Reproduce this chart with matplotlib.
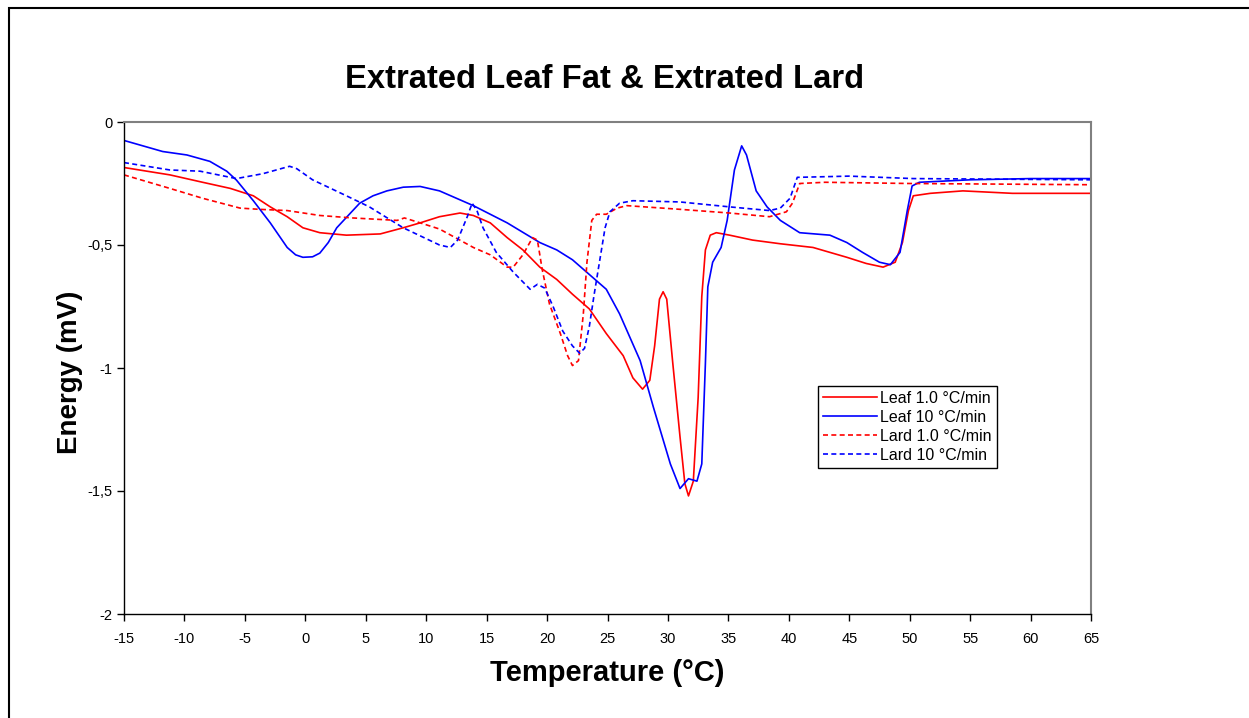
import matplotlib.pyplot as plt
from matplotlib.patches import Rectangle
from matplotlib.ticker import FuncFormatter

plt.rcParams['font.family'] = ['Liberation Sans', 'DejaVu Sans']
plt.rcParams['axes.unicode_minus'] = False

# Leaf 1.0 °C/min
leaf1_t = [-15, -11.2, -8.5, -6.2, -4.3, -2.9, -1.5, -0.2, 1.2, 3.4, 6.2, 8.1, 9.5, 11.1, 12.8, 13.9,
           15.3, 16.7, 18.0, 19.4, 20.8, 22.1, 23.5, 24.9, 26.3, 27.1, 27.9, 28.5, 28.9, 29.3, 29.6,
           29.9, 30.4, 31.0, 31.4, 31.7, 32.1, 32.5, 32.8, 33.1, 33.5, 34.0, 35.1, 37.0, 39.3, 42,
           44.8, 46.4, 47.8, 48.8, 49.4, 49.9, 50.3, 51.7, 54.4, 58.5, 65]
leaf1_e = [-0.185, -0.215, -0.245, -0.27, -0.30, -0.345, -0.385, -0.43, -0.45, -0.46, -0.455, -0.43,
           -0.41, -0.385, -0.37, -0.38, -0.41, -0.47, -0.52, -0.59, -0.64, -0.70, -0.76, -0.86, -0.95,
           -1.04, -1.086, -1.05, -0.91, -0.72, -0.69, -0.72, -0.98, -1.28, -1.47, -1.52, -1.46, -1.12,
           -0.71, -0.52, -0.46, -0.45, -0.46, -0.48, -0.495, -0.51, -0.55, -0.575, -0.59, -0.57, -0.49,
           -0.36, -0.30, -0.29, -0.28, -0.29, -0.29]

# Leaf 10 °C/min
leaf10_t = [-15, -11.8, -9.8, -7.9, -6.5, -5.7, -4.3, -2.9, -1.5, -0.8, -0.2, 0.6, 1.2, 1.9, 2.6, 4.5,
            5.6, 6.75, 8.1, 9.5, 11.1, 13.9, 16.7, 19.4, 20.8, 22.1, 23.5, 24.9, 26.0, 27.7, 28.8,
            30.2, 31.0, 31.7, 32.4, 32.8, 33.1, 33.3, 33.7, 34.4, 34.9, 35.5, 36.1, 36.5, 37.3, 38.2,
            39.3, 40.9, 43.4, 44.8, 46.1, 47.5, 48.4, 49.2, 49.8, 50.2, 50.8, 55, 60, 65]
leaf10_e = [-0.075, -0.12, -0.134, -0.16, -0.20, -0.236, -0.32, -0.41, -0.51, -0.54, -0.55, -0.548,
            -0.533, -0.49, -0.43, -0.33, -0.30, -0.28, -0.265, -0.262, -0.28, -0.34, -0.41, -0.49,
            -0.52, -0.56, -0.62, -0.68, -0.78, -0.97, -1.16, -1.39, -1.49, -1.45, -1.46, -1.39, -0.98,
            -0.67, -0.57, -0.51, -0.40, -0.195, -0.097, -0.134, -0.28, -0.345, -0.40, -0.45, -0.46,
            -0.49, -0.53, -0.57, -0.58, -0.53, -0.36, -0.26, -0.245, -0.235, -0.23, -0.23]

# Lard 1.0 °C/min
lard1_t = [-15, -11.2, -8.5, -5.4, -3.8, -1.5, 1.2, 3.9, 7.6, 8.2, 9.5, 11.1, 13.9, 15.3, 16.7, 17.2,
           18.0, 18.8, 19.2, 19.6, 20.2, 21.1, 21.7, 22.1, 22.6, 23.0, 23.3, 23.7, 24.1, 24.9, 25.8,
           26.6, 31, 35.1, 38.4, 39.8, 40.3, 40.9, 43, 50, 65]
lard1_e = [-0.215, -0.27, -0.31, -0.35, -0.355, -0.36, -0.38, -0.39, -0.40, -0.39, -0.41, -0.435, -0.51,
           -0.54, -0.59, -0.59, -0.54, -0.47, -0.48, -0.60, -0.74, -0.86, -0.95, -0.99, -0.97, -0.78,
           -0.57, -0.40, -0.375, -0.375, -0.35, -0.34, -0.355, -0.37, -0.385, -0.365, -0.33, -0.25,
           -0.245, -0.25, -0.255]

# Lard 10 °C/min
lard10_t = [-15, -11.2, -8.7, -5.7, -3.5, -1.3, -0.7, 0.6, 3.4, 5.3, 8.1, 11.1, 12.0, 12.6, 13.4, 13.8,
            14.2, 14.7, 15.8, 17.2, 18.6, 19.2, 19.8, 20.5, 21.3, 22.1, 22.7, 23.1, 23.5, 23.9, 24.4,
            24.8, 25.2, 26.0, 27.1, 31, 35.1, 38.4, 39.3, 40.1, 40.7, 45, 50.3, 65]
lard10_e = [-0.165, -0.195, -0.20, -0.23, -0.21, -0.18, -0.19, -0.235, -0.30, -0.345, -0.43, -0.50,
            -0.51, -0.48, -0.385, -0.33, -0.36, -0.43, -0.53, -0.61, -0.68, -0.66, -0.675, -0.75, -0.85,
            -0.91, -0.94, -0.92, -0.83, -0.70, -0.55, -0.43, -0.365, -0.33, -0.32, -0.325, -0.345,
            -0.36, -0.35, -0.31, -0.225, -0.22, -0.23, -0.235]

fig = plt.figure(figsize=(12.49, 7.18), dpi=100)
ax = fig.add_axes([124 / 1249, 1 - 614 / 718, (1091 - 124) / 1249, (614 - 122) / 718])

lw = 1.2
ax.plot(leaf1_t, leaf1_e, color='#ff0000', lw=lw, label='Leaf 1.0 °C/min')
ax.plot(leaf10_t, leaf10_e, color='#0000ff', lw=lw, label='Leaf 10 °C/min')
ax.plot(lard1_t, lard1_e, color='#ff0000', lw=lw, ls=(0, (3, 2)), label='Lard 1.0 °C/min')
ax.plot(lard10_t, lard10_e, color='#0000ff', lw=lw, ls=(0, (3, 2)), label='Lard 10 °C/min')

ax.set_xlim(-15, 65)
ax.set_ylim(-2, 0)
ax.set_xticks(range(-15, 66, 5))
ax.set_yticks([0, -0.5, -1, -1.5, -2])
ax.yaxis.set_major_formatter(FuncFormatter(lambda v, p: ('%g' % v).replace('.', ',')))
ax.tick_params(direction='out', length=5, width=1, labelsize=10.5, color='black')
ax.tick_params(axis='x', pad=8)

for s in ['top', 'right']:
    ax.spines[s].set_color('#808080')
    ax.spines[s].set_linewidth(1.5)
for s in ['left', 'bottom']:
    ax.spines[s].set_color('black')
    ax.spines[s].set_linewidth(1)

fig.text(607 / 1249, 1 - 673 / 718, 'Temperature (°C)', ha='center', va='center',
         fontsize=21, fontweight='bold')
fig.text(70 / 1249, 1 - 372 / 718, 'Energy (mV)', ha='center', va='center', rotation=90,
         fontsize=20, fontweight='bold')
fig.text(605 / 1249, 1 - 80 / 718, 'Extrated Leaf Fat & Extrated Lard', ha='center', va='center',
         fontsize=23.6, fontweight='bold')

leg = ax.legend(loc='upper left', bbox_to_anchor=((818 - 124) / 967, 1 - (386 - 122) / 492),
                fontsize=11.5, frameon=True, fancybox=False, edgecolor='black', framealpha=1,
                handlelength=3.4, handletextpad=0.2, borderpad=0.3, labelspacing=0.25,
                borderaxespad=0)
leg.get_frame().set_linewidth(1)

fig.patches.append(Rectangle((9 / 1249, -0.1), 1.2, 1.1 - 8 / 718, transform=fig.transFigure,
                             fill=False, edgecolor='black', lw=1.5))

fig.savefig('out.png', dpi=100)
